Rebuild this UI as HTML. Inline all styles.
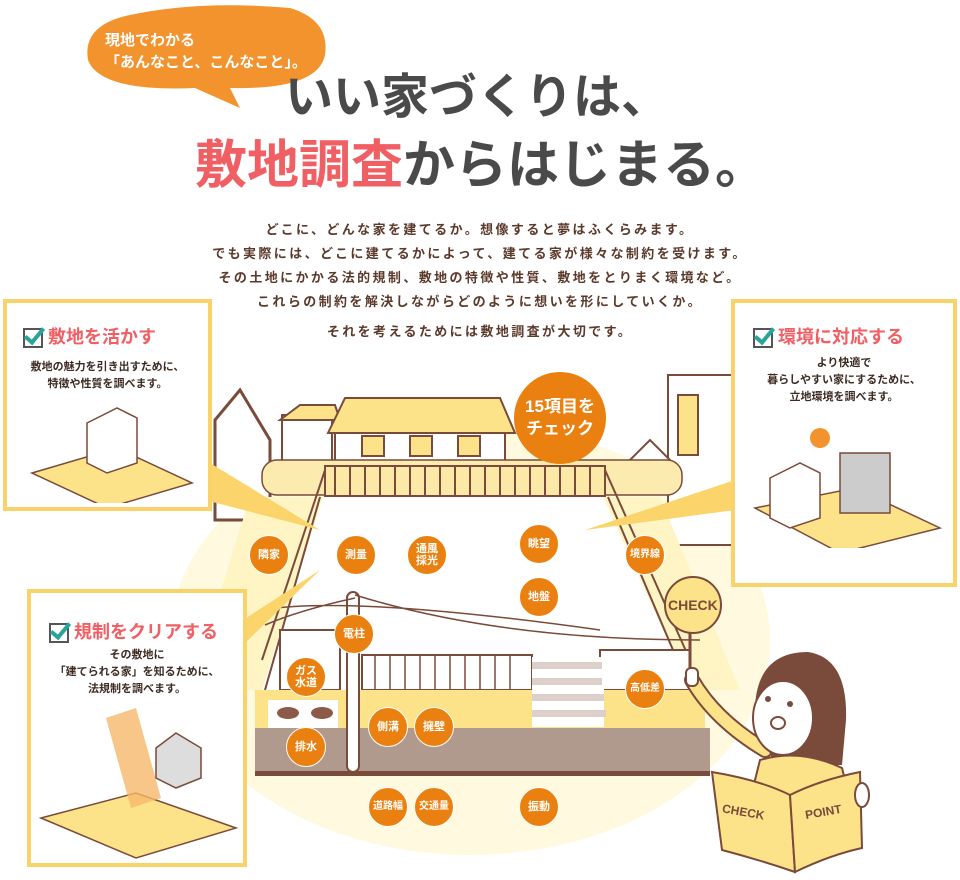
<!DOCTYPE html>
<html><head><meta charset="utf-8">
<style>
body{margin:0;width:960px;height:880px;overflow:hidden;background:#fff;font-family:"Liberation Sans","Noto Sans CJK JP",sans-serif;position:relative}
.a{position:absolute}
.t{font-weight:bold;white-space:nowrap}
.box{position:absolute;border:4px solid #F9D36A;background:#fff;box-sizing:border-box}
.c{position:absolute;width:40px;height:40px;border-radius:50%;background:#E9800F;color:#fff;font-weight:bold;font-size:11px;line-height:12px;display:flex;align-items:center;justify-content:center;text-align:center;border:1.5px solid #fff;box-sizing:border-box}
.p{color:#5b3a2c;font-weight:bold;font-size:13px;text-align:center;width:960px;left:0;letter-spacing:2.4px}
.bt{color:#EF5F64;font-weight:bold;font-size:18px}
.bx{color:#3d2b22;font-weight:bold;font-size:11px;line-height:17px;text-align:center}
.chk{display:inline-block;width:20px;height:20px;border:2px solid #555;box-sizing:border-box;vertical-align:middle;margin-right:5px;position:relative}
.chk:after{content:"";position:absolute;left:4px;top:-6px;width:7px;height:16px;border:solid #2aa39a;border-width:0 4px 4px 0;transform:rotate(40deg)}
</style></head><body>
<svg class="a" style="left:0;top:0" width="960" height="880">
<path d="M130 15 Q200 0 290 8 Q330 20 325 55 Q318 90 230 88 L240 108 L195 88 Q100 92 88 60 Q82 25 130 15Z" fill="#F3932E"/>
<ellipse cx="470" cy="640" rx="300" ry="215" fill="#FFF9E0"/>
<path d="M215 420 L240 390 L270 440 L270 520 L215 520Z" fill="#fff" stroke="#7a4a3a" stroke-width="3"/>
<rect x="282" y="415" width="50" height="60" fill="#fff" stroke="#7a4a3a" stroke-width="2"/>
<path d="M280 420 L300 405 L335 405 L340 420Z" fill="#FCE38A" stroke="#7a4a3a" stroke-width="2"/>
<rect x="335" y="432" width="170" height="40" fill="#fff" stroke="#7a4a3a" stroke-width="2"/>
<path d="M328 433 L345 398 L500 398 L515 433Z" fill="#FCE38A" stroke="#7a4a3a" stroke-width="2"/>
<rect x="362" y="436" width="22" height="20" fill="#FCE38A" stroke="#7a4a3a" stroke-width="2"/>
<rect x="410" y="436" width="22" height="20" fill="#FCE38A" stroke="#7a4a3a" stroke-width="2"/>
<rect x="458" y="436" width="22" height="20" fill="#FCE38A" stroke="#7a4a3a" stroke-width="2"/>
<rect x="668" y="375" width="65" height="170" fill="#fff" stroke="#7a4a3a" stroke-width="2"/>
<rect x="678" y="395" width="20" height="60" fill="#FCE38A" stroke="#7a4a3a" stroke-width="2"/>
<path d="M630 460 L650 440 L670 460 L670 490 L630 490Z" fill="#fff" stroke="#7a4a3a" stroke-width="2"/>
<rect x="262" y="460" width="420" height="35" rx="15" fill="#FCEBAF" stroke="#7a4a3a" stroke-width="1.5"/>
<path d="M323 497 L262 690 L190 690 L250 497Z" fill="#FFF4C4"/>
<path d="M603 497 L690 690 L740 690 L660 497Z" fill="#FFF4C4"/>
<path d="M323 497 L603 497 L690 690 L262 690Z" fill="#fff"/>
<rect x="325" y="466" width="280" height="30" fill="#FCE9A8" stroke="#7a4a3a" stroke-width="2"/>
<g stroke="#7a4a3a" stroke-width="2">
<line x1="335" y1="466" x2="335" y2="496"/><line x1="350" y1="466" x2="350" y2="496"/><line x1="365" y1="466" x2="365" y2="496"/><line x1="380" y1="466" x2="380" y2="496"/><line x1="395" y1="466" x2="395" y2="496"/><line x1="410" y1="466" x2="410" y2="496"/><line x1="425" y1="466" x2="425" y2="496"/><line x1="440" y1="466" x2="440" y2="496"/><line x1="455" y1="466" x2="455" y2="496"/><line x1="470" y1="466" x2="470" y2="496"/><line x1="485" y1="466" x2="485" y2="496"/><line x1="500" y1="466" x2="500" y2="496"/><line x1="515" y1="466" x2="515" y2="496"/><line x1="530" y1="466" x2="530" y2="496"/><line x1="545" y1="466" x2="545" y2="496"/><line x1="560" y1="466" x2="560" y2="496"/><line x1="575" y1="466" x2="575" y2="496"/><line x1="590" y1="466" x2="590" y2="496"/>
<line x1="325" y1="470" x2="262" y2="660"/><line x1="320" y1="497" x2="265" y2="690"/>
<line x1="605" y1="470" x2="690" y2="660"/><line x1="608" y1="497" x2="690" y2="690"/>
</g>
<rect x="362" y="655" width="170" height="35" fill="#fff" stroke="#7a4a3a" stroke-width="2"/>
<g stroke="#7a4a3a" stroke-width="1.5"><line x1="375" y1="655" x2="375" y2="690"/><line x1="390" y1="655" x2="390" y2="690"/><line x1="405" y1="655" x2="405" y2="690"/><line x1="420" y1="655" x2="420" y2="690"/><line x1="435" y1="655" x2="435" y2="690"/><line x1="450" y1="655" x2="450" y2="690"/><line x1="465" y1="655" x2="465" y2="690"/><line x1="480" y1="655" x2="480" y2="690"/><line x1="495" y1="655" x2="495" y2="690"/><line x1="510" y1="655" x2="510" y2="690"/></g>
<rect x="600" y="650" width="90" height="40" fill="#fff" stroke="#7a4a3a" stroke-width="2"/>
<rect x="280" y="630" width="60" height="60" fill="#fff" stroke="#7a4a3a" stroke-width="2"/>
<rect x="255" y="690" width="450" height="38" fill="#FCE38A"/>
<rect x="532" y="657" width="72" height="70" fill="#fff"/>
<g fill="#ddd0ca"><rect x="532" y="662" width="70" height="7"/><rect x="532" y="678" width="70" height="7"/><rect x="532" y="694" width="72" height="7"/><rect x="532" y="710" width="74" height="7"/></g>
<rect x="268" y="700" width="70" height="28" fill="#fff"/>
<ellipse cx="288" cy="713" rx="11" ry="6" fill="#8d5a4a"/><ellipse cx="322" cy="713" rx="11" ry="6" fill="#8d5a4a"/>
<rect x="255" y="728" width="455" height="48" fill="#B09A8E"/>
<rect x="255" y="771" width="455" height="5" fill="#7a4a3a"/>
<rect x="347" y="592" width="12" height="180" rx="6" fill="#fff" stroke="#7a4a3a" stroke-width="2"/>
<path d="M262 610 Q350 595 600 630 M355 595 Q500 640 700 640 M355 598 Q300 610 265 625" fill="none" stroke="#7a4a3a" stroke-width="1.5"/>
<path d="M205 460 L320 530 L205 500Z" fill="#FBD46B"/>
<path d="M243 620 L320 570 L243 645Z" fill="#FBD46B"/>
<path d="M735 480 L585 530 L735 510Z" fill="#FBD46B"/>
<circle cx="560" cy="418" r="46" fill="#E9800F"/>
<line x1="690" y1="620" x2="690" y2="690" stroke="#7a4a3a" stroke-width="3"/>
<circle cx="693" cy="605" r="28" fill="#FCE38A" stroke="#7a4a3a" stroke-width="2"/>
<!-- girl -->
<path d="M692 680 Q715 720 765 750" stroke="#7a4a3a" stroke-width="16" fill="none" stroke-linecap="round"/>
<path d="M692 680 Q715 720 765 750" stroke="#FCE38A" stroke-width="12" fill="none" stroke-linecap="round"/>
<rect x="686" y="668" width="12" height="18" rx="5" fill="#fff" stroke="#7a4a3a" stroke-width="2"/>
<path d="M755 720 Q752 652 808 652 Q848 658 846 720 L842 765 L775 765Z" fill="#7a4a3a"/>
<ellipse cx="783" cy="718" rx="30" ry="37" fill="#fff" stroke="#7a4a3a" stroke-width="2"/>
<circle cx="768" cy="699" r="3" fill="#7a4a3a"/><circle cx="790" cy="704" r="3" fill="#7a4a3a"/>
<ellipse cx="778" cy="723" rx="7" ry="6" fill="#fff" stroke="#7a4a3a" stroke-width="2"/>
<path d="M760 760 Q800 748 842 768 L850 800 L750 800Z" fill="#FCE38A" stroke="#7a4a3a" stroke-width="2"/>
<path d="M712 772 Q760 780 790 795 L795 872 Q760 860 722 850Z" fill="#FCE38A" stroke="#7a4a3a" stroke-width="2"/>
<path d="M790 795 Q820 780 860 772 L862 848 Q830 855 795 872Z" fill="#FCE38A" stroke="#7a4a3a" stroke-width="2"/>
<ellipse cx="862" cy="795" rx="7" ry="12" fill="#fff" stroke="#7a4a3a" stroke-width="2"/>
</svg>

<div class="a t" style="left:105px;top:30px;color:#fff;font-size:15px;line-height:22px">現地でわかる<br>「あんなこと、こんなこと」。</div>
<div class="a t" style="left:285px;top:68px;color:#4a4a4a;font-size:48px;line-height:60px">いい家づくりは、</div>
<div class="a t" style="left:195px;top:134px;color:#4a4a4a;font-size:52px;line-height:64px"><span style="color:#EF5F64">敷地調査</span>からはじまる。</div>

<div class="a p" style="top:219px">どこに、どんな家を建てるか。想像すると夢はふくらみます。</div>
<div class="a p" style="top:243px">でも実際には、どこに建てるかによって、建てる家が様々な制約を受けます。</div>
<div class="a p" style="top:267px">その土地にかかる法的規制、敷地の特徴や性質、敷地をとりまく環境など。</div>
<div class="a p" style="top:291px">これらの制約を解決しながらどのように想いを形にしていくか。</div>
<div class="a p" style="top:321px">それを考えるためには敷地調査が大切です。</div>

<div class="box" style="left:3px;top:299px;width:209px;height:212px">
 <div class="a bt" style="left:16px;top:20px"><span class="chk"></span>敷地を活かす</div>
 <div class="a bx" style="left:0;width:201px;top:56px">敷地の魅力を引き出すために、<br>特徴や性質を調べます。</div>
 <svg class="a" style="left:20px;top:100px" width="170" height="100"><path d="M5 70 L90 45 L165 80 L80 105Z" fill="#FCE38A" stroke="#7a4a3a" stroke-width="1.5"/><path d="M60 20 L90 5 L110 15 L110 60 L80 70 L60 60Z" fill="#fff" stroke="#7a4a3a" stroke-width="1.5"/></svg>
</div>
<div class="box" style="left:731px;top:299px;width:226px;height:288px">
 <div class="a bt" style="left:18px;top:20px"><span class="chk"></span>環境に対応する</div>
 <div class="a bx" style="left:0;width:218px;top:52px">より快適で<br>暮らしやすい家にするために、<br>立地環境を調べます。</div>
 <svg class="a" style="left:10px;top:115px" width="205" height="130"><circle cx="75" cy="20" r="10" fill="#F3932E"/><path d="M10 90 L110 70 L195 110 L95 135Z" fill="#FCE38A" stroke="#7a4a3a" stroke-width="1.5"/><rect x="95" y="35" width="50" height="60" fill="#ccc" stroke="#7a4a3a" stroke-width="1.5"/><path d="M25 60 L55 45 L75 55 L75 100 L45 110 L25 100Z" fill="#fff" stroke="#7a4a3a" stroke-width="1.5"/></svg>
</div>
<div class="box" style="left:27px;top:589px;width:220px;height:278px">
 <div class="a bt" style="left:18px;top:25px"><span class="chk"></span>規制をクリアする</div>
 <div class="a bx" style="left:0;width:212px;top:54px">その敷地に<br>「建てられる家」を知るために、<br>法規制を調べます。</div>
 <svg class="a" style="left:5px;top:105px" width="205" height="165"><path d="M5 120 L100 95 L200 130 L100 160Z" fill="#FCE38A" stroke="#7a4a3a" stroke-width="1.5"/><path d="M70 20 L100 10 L125 100 L95 110Z" fill="#F5B86A" opacity=".8"/><path d="M120 50 L140 35 L165 50 L165 80 L140 90 L120 80Z" fill="#ddd" stroke="#7a4a3a" stroke-width="1.5"/></svg>
</div>

<div class="a t" style="left:514px;top:396px;color:#fff;font-size:17px;line-height:22px;text-align:center;width:92px">15項目を<br>チェック</div>
<div class="a t" style="left:668px;top:597px;color:#7a4a3a;font-size:14px">CHECK</div>
<div class="a t" style="left:722px;top:805px;color:#7a4a3a;font-size:12px;transform:rotate(10deg)">CHECK</div>
<div class="a t" style="left:805px;top:805px;color:#7a4a3a;font-size:12px;transform:rotate(-10deg)">POINT</div>

<div class="c" style="left:249px;top:535px">隣家</div>
<div class="c" style="left:336px;top:535px">測量</div>
<div class="c" style="left:407px;top:535px">通風<br>採光</div>
<div class="c" style="left:519px;top:524px">眺望</div>
<div class="c" style="left:625px;top:535px;font-size:10px">境界線</div>
<div class="c" style="left:519px;top:577px">地盤</div>
<div class="c" style="left:334px;top:614px">電柱</div>
<div class="c" style="left:286px;top:657px">ガス<br>水道</div>
<div class="c" style="left:368px;top:707px">側溝</div>
<div class="c" style="left:414px;top:707px">擁壁</div>
<div class="c" style="left:286px;top:727px">排水</div>
<div class="c" style="left:368px;top:787px;font-size:10px">道路幅</div>
<div class="c" style="left:414px;top:787px;font-size:10px">交通量</div>
<div class="c" style="left:519px;top:787px">振動</div>
<div class="c" style="left:625px;top:669px;font-size:10px">高低差</div>
</body></html>
